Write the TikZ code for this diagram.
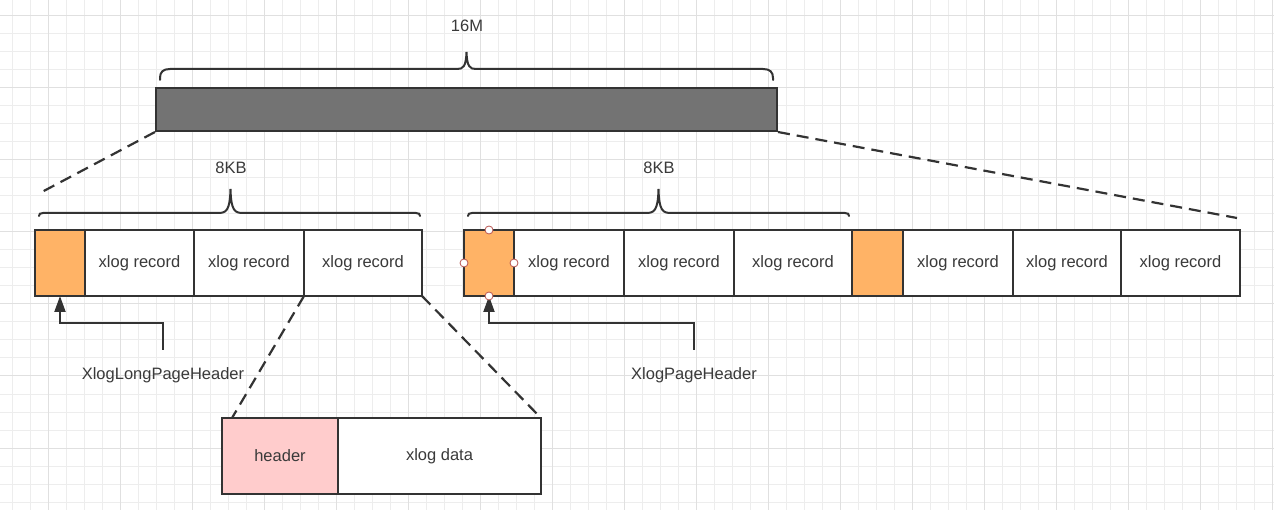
\documentclass[tikz,border=0pt]{standalone}
\usepackage{fontspec}
\setmainfont{Liberation Sans}
\usetikzlibrary{arrows.meta}
\definecolor{ink}{HTML}{333333}
\definecolor{txt}{HTML}{3A3A3A}
\definecolor{barfill}{HTML}{737373}
\definecolor{orangefill}{HTML}{FFB366}
\definecolor{pinkfill}{HTML}{FFCCCC}
\definecolor{gridminor}{HTML}{EDEDED}
\definecolor{gridmajor}{HTML}{E0E0E0}
\definecolor{handle}{HTML}{B85450}
\tikzset{
  cell/.style={draw=ink, line width=2pt, fill=white, minimum height=66pt, inner sep=0pt, outer sep=0pt, text=txt, font=\fontsize{16.5}{19}\selectfont},
  hdrcell/.style={cell, fill=orangefill},
  lbl/.style={text=txt, font=\fontsize{16.5}{19}\selectfont, inner sep=0pt},
  bracepath/.style={draw=ink, line width=2pt, line cap=round},
  zoomline/.style={draw=ink, line width=2.2pt, dash pattern=on 12pt off 7pt},
  ptr/.style={draw=ink, line width=2pt, -{Triangle[length=16pt,width=11pt]}},
  handledot/.style={circle, draw=handle, fill=white, line width=0.8pt, minimum size=8pt, inner sep=0pt}
}
\begin{document}
\begin{tikzpicture}[x=1pt,y=-1pt]
\useasboundingbox (0,0) rectangle (1274,510);
\fill[white] (0,0) rectangle (1274,510);
% grid
\foreach \i in {0,...,70} {
  \draw[gridminor, line width=1pt] (12.7+18*\i,0) -- (12.7+18*\i,510);
}
\foreach \i in {0,...,28} {
  \draw[gridminor, line width=1pt] (0,16+18*\i) -- (1274,16+18*\i);
}
\foreach \i in {0,...,17} {
  \draw[gridmajor, line width=1pt] (48.7+72*\i,0) -- (48.7+72*\i,510);
}
\foreach \i in {0,...,7} {
  \draw[gridmajor, line width=1pt] (0,16+72*\i) -- (1274,16+72*\i);
}

% top bar
\node[draw=ink, line width=2pt, fill=barfill, minimum width=621pt, minimum height=43pt, inner sep=0pt] (bar) at (466.5,109.5) {};

% top brace
\draw[bracepath] (160,80) -- (160,78) .. controls (160,72) and (163,69) .. (170,69) -- (457,69)
  .. controls (463,69) and (466,67) .. (466.5,52) .. controls (467,67) and (470,69) .. (476,69)
  -- (763,69) .. controls (770,69) and (773,72) .. (773,78) -- (773,80);
\node[lbl] (t16) at (467,26) {16M};

% row 1
\node[hdrcell, minimum width=50pt] (h1) at (60,263) {};
\node[cell, minimum width=109pt] (r1a) at (139.5,263) {xlog record};
\node[cell, minimum width=110pt] (r1b) at (249,263) {xlog record};
\node[cell, minimum width=118pt] (r1c) at (363,263) {xlog record};

% row 2
\node[hdrcell, minimum width=50pt] (h2) at (489,263) {};
\node[cell, minimum width=110pt] (r2a) at (569,263) {xlog record};
\node[cell, minimum width=110pt] (r2b) at (679,263) {xlog record};
\node[cell, minimum width=118pt] (r2c) at (793,263) {xlog record};
\node[hdrcell, minimum width=51pt] (h3) at (877.5,263) {};
\node[cell, minimum width=110pt] (r3a) at (958,263) {xlog record};
\node[cell, minimum width=108pt] (r3b) at (1067,263) {xlog record};
\node[cell, minimum width=119pt] (r3c) at (1180.5,263) {xlog record};

% 8KB braces
\draw[bracepath] (39,216) .. controls (39,214) and (40,213) .. (43,213) -- (218,213)
  .. controls (226,213) and (230,211) .. (230.5,189) .. controls (231,211) and (235,213) .. (243,213)
  -- (416,213) .. controls (419,213) and (420,214) .. (420,216);
\node[lbl] (k1) at (231,168) {8KB};
\draw[bracepath] (468,216) .. controls (468,214) and (469,213) .. (472,213) -- (646,213)
  .. controls (654,213) and (658,211) .. (658.5,189) .. controls (659,211) and (663,213) .. (671,213)
  -- (845,213) .. controls (848,213) and (849,214) .. (849,216);
\node[lbl] (k2) at (659,168) {8KB};

% bottom detail
\node[cell, fill=pinkfill, minimum width=116pt, minimum height=76pt] (hd) at (280,456) {header};
\node[cell, minimum width=203pt, minimum height=76pt] (xd) at (439.5,456) {xlog data};

% zoom lines
\coordinate (zl) at (40,193);
\coordinate (zr) at (1237,218);
\coordinate (zb) at (232,418);
\draw[zoomline] (bar.south west) -- (zl);
\draw[zoomline] (bar.south east) -- (zr);
\draw[zoomline] (r1c.south west) -- (zb);
\draw[zoomline] (r1c.south east) -- (xd.north east);

% pointer labels
\node[lbl] (L1) at (163,375) {XlogLongPageHeader};
\node[lbl] (L2) at (694,375) {XlogPageHeader};
\coordinate (p1) at (163,350);
\coordinate (p2) at (694,350);
\draw[ptr] (p1) -- ++(0,-27) -| (h1.south);
\draw[ptr] (p2) -- ++(0,-27) -| (h2.south);

% selection handles
\node[handledot] (hn) at (h2.north) {};
\node[handledot] (hw) at (h2.west) {};
\node[handledot] (he) at (h2.east) {};
\node[handledot] (hs) at (h2.south) {};
\end{tikzpicture}
\end{document}
